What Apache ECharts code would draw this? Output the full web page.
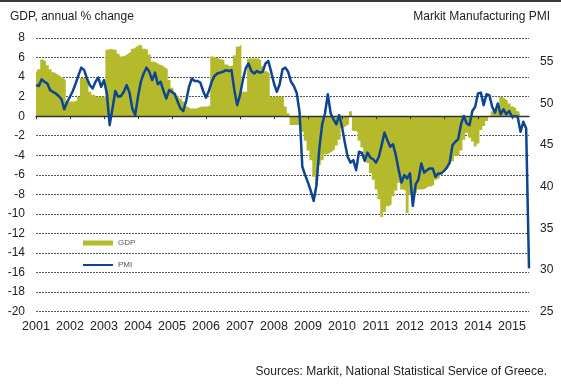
<!DOCTYPE html>
<html>
<head>
<meta charset="utf-8">
<script src="https://cdn.jsdelivr.net/npm/echarts@6/dist/echarts.min.js"></script>
<style>
html,body{margin:0;padding:0;background:#ffffff;}
#c{width:561px;height:389px;}
</style>
</head>
<body>
<div id="c"></div>
<script>
// ---- data ----
const years = [2001,2002,2003,2004,2005,2006,2007,2008,2009,2010,2011,2012,2013,2014,2015];
const lastMonth2015 = 7; // PMI runs to July 2015

// GDP, annual % change (monthly readings of the stepped area)
const gdp2001 = [4.4, 4.8, 5.8, 5.6, 5.2, 4.8, 4.5, 4.3, 4.1, 3.9, 3.7, 1.5];
const gdp2002 = [1.5, 1.5, 1.6, 2.0, 3.9, 3.9, 3.7, 2.5, 2.2, 2.0, 2.0, 2.0];
const gdp2003 = [2.0, 6.8, 6.9, 6.8, 6.8, 6.4, 6.1, 6.2, 6.4, 6.6, 6.9, 7.1];
const gdp2004 = [7.3, 7.2, 6.9, 6.8, 6.3, 5.6, 5.5, 5.3, 5.2, 5.0, 4.8, 3.7];
const gdp2005 = [2.9, 2.4, 2.1, 1.8, 1.5, 1.0, 0.8, 0.8, 0.8, 0.9, 1.0, 1.0];
const gdp2006 = [1.0, 1.1, 6.1, 6.0, 5.9, 5.8, 5.75, 5.3, 5.1, 5.2, 6.2, 7.1];
const gdp2007 = [7.3, 2.5, 2.5, 5.9, 5.9, 5.9, 5.9, 5.7, 5.1, 4.6, 4.4, 2.0];
const gdp2008 = [2.0, 2.0, 2.0, 2.0, 1.0, 0.3, -0.9, -0.9, -0.9, -0.9, -1.6, -2.5];
const gdp2009 = [-3.5, -4.5, -6.2, -7.0, -5.0, -4.5, -3.9, -3.8, -3.6, -3.4, -3.0, -2.4];
const gdp2010 = [-1.2, -1.0, -0.8, 0.5, -1.5, -1.6, -2.5, -3.2, -4.0, -4.8, -5.8, -6.5];
const gdp2011 = [-7.5, -8.5, -10.3, -9.8, -9.2, -9.0, -8.2, -7.6, -6.8, -7.5, -7.6, -9.9];
const gdp2012 = [-8.0, -7.9, -7.8, -7.5, -7.5, -7.4, -7.2, -7.2, -7.0, -6.5, -6.3, -6.0];
const gdp2013 = [-5.5, -5.3, -4.9, -4.6, -4.1, -4.0, -3.5, -2.4, -1.7, -2.2, -2.6, -3.1];
const gdp2014 = [-2.8, -1.4, -1.0, -0.5, -0.1, 0.5, 0.6, 0.8, 2.0, 1.8, 1.6, 1.3];
const gdp2015 = [1.0, 0.8, 0.5, 0.3];

// Markit Manufacturing PMI (monthly)
const pmi2001 = [52.2, 52.1, 52.9, 52.6, 52.4, 51.6, 51.4, 51.2, 50.9, 50.5, 49.3, 50.2];
const pmi2002 = [50.8, 51.5, 52.4, 53.4, 54.3, 54.0, 53.0, 52.2, 51.8, 52.6, 53.1, 52.0];
const pmi2003 = [52.8, 51.2, 47.4, 49.4, 51.5, 50.8, 50.9, 51.4, 52.2, 51.3, 49.4, 48.6];
const pmi2004 = [50.8, 52.6, 53.6, 54.3, 53.8, 52.8, 53.7, 52.3, 52.6, 51.5, 50.6, 51.6];
const pmi2005 = [51.4, 51.1, 50.2, 49.4, 49.1, 50.3, 52.0, 53.0, 52.7, 52.7, 52.5, 51.5];
const pmi2006 = [50.7, 51.5, 52.6, 53.3, 53.6, 53.7, 53.8, 54.0, 53.9, 54.0, 51.6, 49.8];
const pmi2007 = [51.0, 52.8, 54.2, 54.8, 53.9, 53.6, 53.9, 53.7, 53.8, 54.8, 55.1, 53.8];
const pmi2008 = [52.4, 51.4, 52.3, 54.1, 54.3, 53.8, 52.6, 52.1, 51.3, 49.0, 42.4, 41.4];
const pmi2009 = [40.5, 39.5, 38.3, 40.2, 44.6, 47.5, 48.8, 51.1, 48.8, 48.1, 47.5, 48.6];
const pmi2010 = [47.2, 45.3, 43.6, 42.9, 43.2, 42.0, 44.2, 44.1, 43.1, 44.1, 43.5, 43.3];
const pmi2011 = [42.9, 43.6, 45.0, 46.5, 45.6, 44.8, 45.1, 43.8, 42.0, 40.5, 41.4, 41.0];
const pmi2012 = [41.6, 37.7, 40.3, 40.9, 42.8, 41.7, 42.0, 42.2, 42.2, 41.2, 41.6, 41.6];
const pmi2013 = [41.9, 42.3, 42.9, 45.0, 45.4, 45.7, 47.5, 48.5, 47.6, 47.4, 49.1, 49.6];
const pmi2014 = [51.2, 51.3, 49.8, 51.1, 51.0, 49.6, 48.9, 50.0, 48.7, 49.3, 48.7, 49.1];
const pmi2015 = [48.4, 48.5, 48.4, 46.6, 47.8, 47.0, 30.2];

// axis ticks
const gdpTicks = {min: -20, max: 8, interval: 2};
const pmiTicks = {min: 25, max: 57.86, interval: 5};
const yearLabels = years.map(String);

// ---- build ----
const months = [];
years.forEach(function (y) {
  const n = (y === 2015) ? lastMonth2015 : 12;
  for (let k = 1; k <= n; k++) months.push(y + '-' + (k < 10 ? '0' : '') + k);
});
const gdp = [].concat(gdp2001, gdp2002, gdp2003, gdp2004, gdp2005, gdp2006, gdp2007, gdp2008,
  gdp2009, gdp2010, gdp2011, gdp2012, gdp2013, gdp2014, gdp2015);
const pmi = [].concat(pmi2001, pmi2002, pmi2003, pmi2004, pmi2005, pmi2006, pmi2007, pmi2008,
  pmi2009, pmi2010, pmi2011, pmi2012, pmi2013, pmi2014, pmi2015);

const FONT = '"Liberation Sans", Arial, Helvetica, sans-serif';
const OLIVE = '#b4ba2c';
const BLUE = '#0b4593';
const isYearStart = function (i) { return i % 12 === 0; };

const chart = echarts.init(document.getElementById('c'), null, {renderer: 'canvas'});
chart.setOption({
  animation: false,
  backgroundColor: '#ffffff',
  textStyle: {fontFamily: FONT},
  grid: {left: 36, right: 32, top: 38, bottom: 77.3},
  legend: [
    {data: ['GDP'], left: 83, top: 239, padding: 0, itemWidth: 30, itemHeight: 5, icon: 'rect',
     selectedMode: false, textStyle: {fontSize: 8, color: '#555', fontFamily: FONT}},
    {data: ['PMI'], left: 83, top: 261, padding: 0, itemWidth: 30, itemHeight: 2, icon: 'rect',
     selectedMode: false, textStyle: {fontSize: 8, color: '#555', fontFamily: FONT}}
  ],
  xAxis: [
    {type: 'category', data: months, boundaryGap: false, z: 3,
     axisLine: {onZero: true, onZeroAxisIndex: 0, lineStyle: {color: '#333', width: 1.3}},
     axisTick: {interval: isYearStart, length: 3, lineStyle: {color: '#333'}},
     axisLabel: {show: false}, splitLine: {show: false}},
    {type: 'category', data: months, boundaryGap: false, position: 'bottom',
     axisLine: {show: false, onZero: false}, axisTick: {show: false}, splitLine: {show: false},
     axisLabel: {interval: isYearStart, margin: 8, fontSize: 12.5, color: '#222', fontFamily: FONT,
       formatter: function (v) { const y = v.slice(0, 4); return yearLabels.indexOf(y) >= 0 ? y : ''; }}}
  ],
  yAxis: [
    {type: 'value', position: 'left', min: gdpTicks.min, max: gdpTicks.max, interval: gdpTicks.interval,
     axisLine: {show: false}, axisTick: {show: false},
     axisLabel: {margin: 11, fontSize: 12, color: '#222', fontFamily: FONT},
     splitLine: {show: true, lineStyle: {color: '#555', width: 1, type: [2, 1]}}},
    {type: 'value', position: 'right', min: pmiTicks.min, max: pmiTicks.max, interval: pmiTicks.interval,
     axisLine: {show: false}, axisTick: {show: false}, splitLine: {show: false},
     axisLabel: {margin: 11, fontSize: 12, color: '#222', fontFamily: FONT,
       formatter: function (v) { return Math.abs(v % 5) < 1e-6 ? String(v) : ''; }}}
  ],
  series: [
    {name: 'GDP', type: 'line', xAxisIndex: 0, yAxisIndex: 0, data: gdp, step: 'middle',
     symbol: 'none', color: OLIVE, z: 1, silent: true,
     lineStyle: {width: 0, color: OLIVE}, itemStyle: {color: OLIVE},
     areaStyle: {color: OLIVE, opacity: 1, origin: 'auto'}},
    {name: 'PMI', type: 'line', xAxisIndex: 0, yAxisIndex: 1, data: pmi,
     symbol: 'none', color: BLUE, z: 5, silent: true,
     lineStyle: {width: 2.5, color: BLUE, join: 'round'}, itemStyle: {color: BLUE}}
  ],
  graphic: [
    {type: 'rect', left: 0, top: 0, z: 10, shape: {width: 561, height: 2}, style: {fill: '#3a3a3a'}},
    {type: 'text', x: 10, y: 16.5, style: {text: 'GDP, annual % change', font: '12px ' + FONT,
      fill: '#222', textAlign: 'left', textVerticalAlign: 'middle'}},
    {type: 'text', x: 550, y: 16.5, style: {text: 'Markit Manufacturing PMI', font: '12px ' + FONT,
      fill: '#222', textAlign: 'right', textVerticalAlign: 'middle'}},
    {type: 'text', x: 547, y: 371.5, style: {text: 'Sources: Markit, National Statistical Service of Greece.',
      font: '12px ' + FONT, fill: '#222', textAlign: 'right', textVerticalAlign: 'middle'}}
  ]
});
</script>
</body>
</html>
